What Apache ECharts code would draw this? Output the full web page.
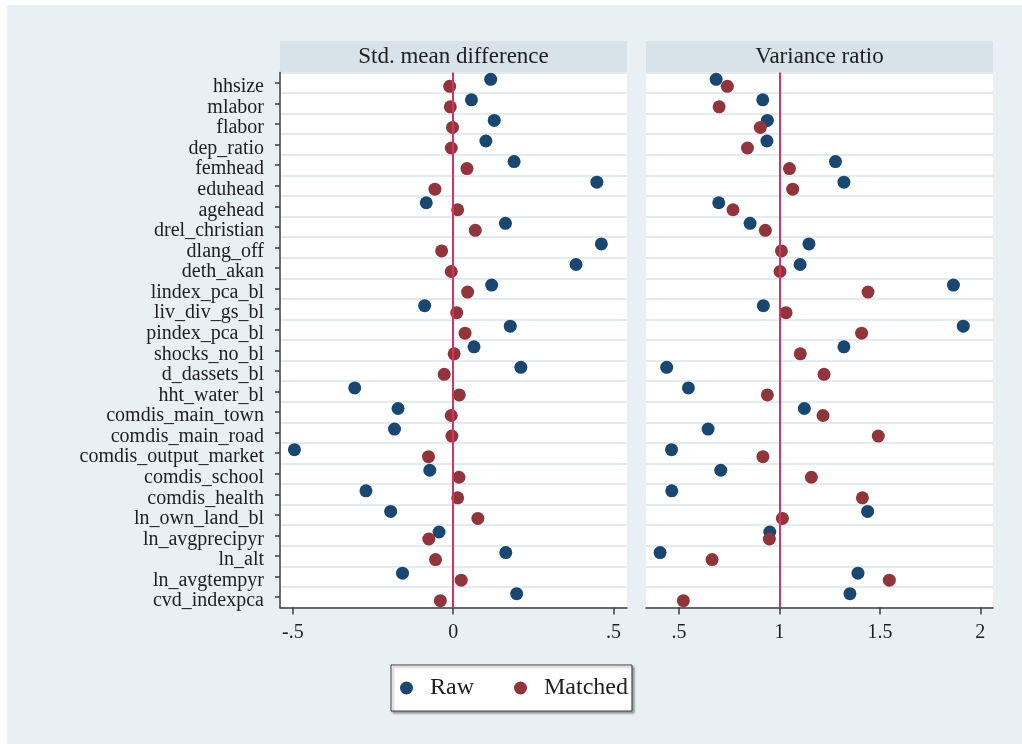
<!DOCTYPE html>
<html>
<head>
<meta charset="utf-8">
<script src="https://cdn.jsdelivr.net/npm/echarts@6/dist/echarts.min.js"></script>
<style>
  html, body { margin: 0; padding: 0; background: #ffffff; }
  #chart { width: 1022px; height: 744px; }
</style>
</head>
<body>
<div id="chart"></div>
<script>
// Covariate names, top to bottom
const covariates = [
  'hhsize', 'mlabor', 'flabor', 'dep_ratio', 'femhead', 'eduhead', 'agehead',
  'drel_christian', 'dlang_off', 'deth_akan', 'lindex_pca_bl', 'liv_div_gs_bl',
  'pindex_pca_bl', 'shocks_no_bl', 'd_dassets_bl', 'hht_water_bl',
  'comdis_main_town', 'comdis_main_road', 'comdis_output_market', 'comdis_school',
  'comdis_health', 'ln_own_land_bl', 'ln_avgprecipyr', 'ln_alt', 'ln_avgtempyr',
  'cvd_indexpca'
];

// Standardised mean differences
const smdRaw = [
  0.117, 0.057, 0.128, 0.102, 0.190, 0.448, -0.084, 0.163, 0.462, 0.383,
  0.120, -0.089, 0.178, 0.065, 0.211, -0.307, -0.172, -0.183, -0.495, -0.073,
  -0.272, -0.195, -0.044, 0.164, -0.158, 0.198
];
const smdMatched = [
  -0.011, -0.009, -0.002, -0.006, 0.043, -0.057, 0.014, 0.069, -0.036, -0.006,
  0.045, 0.011, 0.037, 0.003, -0.028, 0.019, -0.006, -0.004, -0.077, 0.018,
  0.014, 0.077, -0.076, -0.055, 0.025, -0.040
];

// Variance ratios
const vrRaw = [
  0.685, 0.917, 0.940, 0.938, 1.279, 1.321, 0.698, 0.854, 1.147, 1.103,
  1.866, 0.920, 1.915, 1.321, 0.439, 0.547, 1.124, 0.645, 0.463, 0.708,
  0.464, 1.439, 0.952, 0.406, 1.391, 1.351
];
const vrMatched = [
  0.741, 0.700, 0.905, 0.841, 1.050, 1.066, 0.769, 0.930, 1.010, 1.003,
  1.441, 1.033, 1.409, 1.104, 1.222, 0.940, 1.217, 1.492, 0.918, 1.159,
  1.413, 1.015, 0.950, 0.665, 1.547, 0.522
];

// Axis ticks and reference lines
const smdTicks = [-0.5, 0, 0.5];
const vrTicks = [0.5, 1, 1.5, 2];
const smdRef = 0;
const vrRef = 1;
const panelTitles = ['Std. mean difference', 'Variance ratio'];
const seriesNames = ['Raw', 'Matched'];

const NAVY = '#1a476f';
const MAROON = '#90353b';
const REFLINE = '#d8335e';
const BG = '#e9f0f3';
const STRIP = '#d7e3e9';
const AXIS = '#3c3c3c';
const SERIF = '"Liberation Serif", "DejaVu Serif", serif';

const fmtTick = v => String(v).replace('0.', '.');

const pairs = vals => vals.map((v, i) => [v, covariates[i]]);

const plotTop = 72.5, plotH = 535, panelW = 347;
const lefts = [280, 646];

function xAxisFor(idx, min, max, ticks) {
  return {
    type: 'value', gridIndex: idx, min: min, max: max,
    axisLine: { show: true, onZero: false, lineStyle: { color: AXIS, width: 1.5 } },
    axisTick: { show: true, customValues: ticks, length: 7, lineStyle: { color: AXIS, width: 1.5 } },
    axisLabel: { customValues: ticks, formatter: fmtTick, color: '#1e1e1e',
                 fontFamily: SERIF, fontSize: 20, margin: 15 },
    splitLine: { show: false }
  };
}

function yAxisFor(idx, showLabels) {
  return {
    type: 'category', gridIndex: idx, data: covariates, inverse: true,
    axisLine: { show: showLabels, onZero: false, lineStyle: { color: AXIS, width: 1.5 } },
    axisTick: { show: showLabels, alignWithLabel: true, interval: 0, length: 5,
                lineStyle: { color: AXIS, width: 1.5 } },
    // labels sit slightly below their tick
    axisLabel: { show: showLabels, interval: 0, color: '#1e1e1e',
                 fontFamily: SERIF, fontSize: 20, margin: 16,
                 verticalAlign: 'top', lineHeight: 8 },
    splitLine: { show: true, interval: 0, lineStyle: { color: '#e3ebf0', width: 2 } }
  };
}

function dots(name, idx, vals, color, dy, z) {
  return {
    name: name, type: 'scatter', xAxisIndex: idx, yAxisIndex: idx,
    data: pairs(vals), symbol: 'circle', symbolSize: 13,
    symbolOffset: [0, dy], itemStyle: { color: color, opacity: 1 },
    z: z, silent: true
  };
}

function refLine(idx, x) {
  return {
    type: 'line', xAxisIndex: idx, yAxisIndex: idx, data: [], z: 1, silent: true,
    markLine: {
      silent: true, symbol: 'none', label: { show: false },
      lineStyle: { color: REFLINE, width: 2, type: 'solid' },
      data: [{ xAxis: x }]
    }
  };
}

const graphics = [
  { type: 'rect', shape: { x: 7, y: 5, width: 1015, height: 739 }, style: { fill: BG }, z: -10 }
];
panelTitles.forEach((t, i) => {
  graphics.push({ type: 'rect', shape: { x: lefts[i], y: 41, width: panelW, height: 31.5 },
                  style: { fill: STRIP }, z: -5 });
  graphics.push({ type: 'text', x: lefts[i] + panelW / 2, y: 57,
                  style: { text: t, fill: '#1e1e1e', font: '23px ' + SERIF,
                           textAlign: 'center', textVerticalAlign: 'middle' }, z: 5 });
});

const option = {
  backgroundColor: '#ffffff',
  animation: false,
  graphic: graphics,
  grid: lefts.map(l => ({
    left: l, top: plotTop, width: panelW, height: plotH,
    show: true, backgroundColor: '#ffffff', borderWidth: 0, containLabel: false
  })),
  xAxis: [
    xAxisFor(0, -0.54, 0.542, smdTicks),
    xAxisFor(1, 0.336, 2.063, vrTicks)
  ],
  yAxis: [yAxisFor(0, true), yAxisFor(1, false)],
  legend: {
    data: seriesNames, left: 391, top: 665,
    icon: 'circle', itemWidth: 13, itemHeight: 13, itemGap: 40,
    padding: [11, 4, 11, 9],
    backgroundColor: '#ffffff', borderColor: '#3c3c3c', borderWidth: 1,
    shadowColor: 'rgba(0,0,0,0.35)', shadowBlur: 2, shadowOffsetX: 2, shadowOffsetY: 2,
    textStyle: { fontFamily: SERIF, fontSize: 24, color: '#1e1e1e', padding: [0, 0, 0, 12] },
    selectedMode: false
  },
  series: [
    refLine(0, smdRef),
    refLine(1, vrRef),
    dots(seriesNames[0], 0, smdRaw, NAVY, -3.5, 3),
    dots(seriesNames[1], 0, smdMatched, MAROON, 3.5, 4),
    dots(seriesNames[0], 1, vrRaw, NAVY, -3.5, 3),
    dots(seriesNames[1], 1, vrMatched, MAROON, 3.5, 4)
  ]
};

const chart = echarts.init(document.getElementById('chart'), null, { renderer: 'canvas' });
chart.setOption(option);
</script>
</body>
</html>
